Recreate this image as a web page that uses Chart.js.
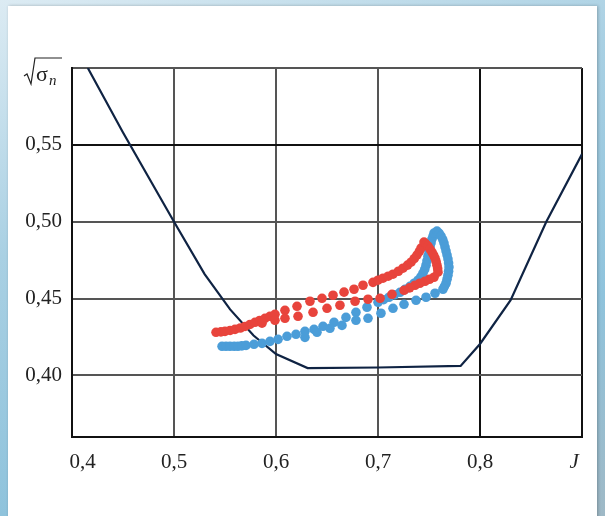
<!DOCTYPE html>
<html>
<head>
<meta charset="utf-8">
<script src="https://cdn.jsdelivr.net/npm/chart.js@4.4.1/dist/chart.umd.min.js"></script>
<style>
  html, body { margin: 0; padding: 0; }
  body {
    width: 605px; height: 516px; overflow: hidden; position: relative;
    background: linear-gradient(160deg, #dcebf3 0%, #a9d0e3 35%, #8fc3dc 70%, #9fb9c6 100%);
  }
  #card {
    position: absolute; left: 8px; top: 6px; width: 589px; height: 520px;
    background: #fff; box-shadow: 1px 0 3px rgba(0,0,0,0.25);
  }
  #wrap { position: absolute; left: 0; top: 0; width: 605px; height: 516px; }
</style>
</head>
<body>
<div id="card"></div>
<div id="wrap"><canvas id="chart" width="605" height="516"></canvas></div>
<script>
// tick positions
const xTicks = [0.4, 0.5, 0.6, 0.7, 0.8, 0.9];
const yTicks = [0.40, 0.45, 0.50, 0.55, 0.60];

// boundary curve (dark line)
const curveX = [0.4155, 0.45, 0.50, 0.53, 0.555, 0.578, 0.600, 0.631, 0.700, 0.781, 0.800, 0.830, 0.865, 0.900];
const curveY = [0.600, 0.558, 0.500, 0.466, 0.443, 0.426, 0.414, 0.4048, 0.4052, 0.4062, 0.4205, 0.449, 0.500, 0.544];

// red points
const redX = [0.5412, 0.5460, 0.5500, 0.5550, 0.5598, 0.5650, 0.5696, 0.5745, 0.5794, 0.5840, 0.5892, 0.5940, 0.5990, 0.6088,
  0.6206, 0.6333, 0.6451, 0.6559, 0.6667, 0.6765, 0.6853, 0.6951, 0.7000, 0.7049, 0.7100, 0.7147, 0.7200, 0.7245, 0.7290,
  0.7324, 0.7355, 0.7382, 0.7405, 0.7422, 0.7451, 0.7470, 0.7490, 0.7510, 0.7529, 0.7545, 0.7559, 0.7570, 0.7578, 0.7585, 0.7588,
  0.7549, 0.7505, 0.7461, 0.7410, 0.7363, 0.7310, 0.7255, 0.7137, 0.7020, 0.6902, 0.6775, 0.6627, 0.6500, 0.6363, 0.6216,
  0.6088, 0.5990, 0.5863];
const redY = [0.4281, 0.4284, 0.4287, 0.4293, 0.4300, 0.4309, 0.4319, 0.4332, 0.4346, 0.4358, 0.4372, 0.4385, 0.4398, 0.4424,
  0.4450, 0.4483, 0.4502, 0.4522, 0.4542, 0.4561, 0.4587, 0.4606, 0.4620, 0.4633, 0.4646, 0.4659, 0.4678, 0.4698, 0.4718,
  0.4737, 0.4760, 0.4783, 0.4806, 0.4829, 0.4868, 0.4855, 0.4841, 0.4822, 0.4802, 0.4783, 0.4763, 0.4740, 0.4717, 0.4695, 0.4672,
  0.4639, 0.4626, 0.4613, 0.4600, 0.4587, 0.4570, 0.4554, 0.4528, 0.4502, 0.4496, 0.4483, 0.4457, 0.4437, 0.4411, 0.4385,
  0.4372, 0.4359, 0.4340];

// blue points
const blueX = [0.5471, 0.5510, 0.5549, 0.5590, 0.5627, 0.5665, 0.5706, 0.5784, 0.5863, 0.5941, 0.6020, 0.6108, 0.6196, 0.6284,
  0.6373, 0.6461, 0.6569, 0.6686, 0.6784, 0.6892, 0.7000, 0.7055, 0.7108, 0.7160, 0.7216, 0.7265, 0.7314, 0.7355, 0.7392,
  0.7420, 0.7441, 0.7458, 0.7471, 0.7480, 0.7490, 0.7500, 0.7510, 0.7520, 0.7529, 0.7540, 0.7549, 0.7578, 0.7600, 0.7618,
  0.7635, 0.7647, 0.7657, 0.7667, 0.7677, 0.7686, 0.7692, 0.7696, 0.7692, 0.7686, 0.7677, 0.7667, 0.7652, 0.7637,
  0.7559, 0.7471, 0.7373, 0.7255, 0.7147, 0.7029, 0.6902, 0.6784, 0.6647, 0.6529, 0.6402, 0.6284];
const blueY = [0.4190, 0.4190, 0.4190, 0.4190, 0.4190, 0.4193, 0.4196, 0.4203, 0.4209, 0.4222, 0.4235, 0.4255, 0.4268, 0.4287,
  0.4300, 0.4320, 0.4346, 0.4378, 0.4411, 0.4444, 0.4476, 0.4493, 0.4509, 0.4525, 0.4541, 0.4560, 0.4580, 0.4600, 0.4620,
  0.4642, 0.4665, 0.4690, 0.4717, 0.4746, 0.4776, 0.4805, 0.4835, 0.4861, 0.4887, 0.4907, 0.4926, 0.4939, 0.4925, 0.4906,
  0.4884, 0.4861, 0.4835, 0.4809, 0.4783, 0.4757, 0.4731, 0.4705, 0.4678, 0.4652, 0.4626, 0.4600, 0.4580, 0.4561,
  0.4535, 0.4509, 0.4489, 0.4463, 0.4437, 0.4405, 0.4372, 0.4359, 0.4326, 0.4307, 0.4281, 0.4248];

const toPts = (xs, ys) => xs.map((x, i) => ({ x: x, y: ys[i] }));
const comma = v => v.toString().replace('.', ',');

// draws the sqrt(sigma_n) axis title
const axisTitle = {
  id: 'axisTitle',
  afterDraw(chart) {
    const ctx = chart.ctx;
    ctx.save();
    ctx.strokeStyle = '#222';
    ctx.lineWidth = 1.2;
    ctx.beginPath();
    ctx.moveTo(24, 76);
    ctx.lineTo(27, 74);
    ctx.lineTo(31, 84);
    ctx.lineTo(35, 58);
    ctx.lineTo(62, 58);
    ctx.stroke();
    ctx.fillStyle = '#222';
    ctx.font = '22px "Liberation Serif"';
    ctx.textBaseline = 'alphabetic';
    ctx.fillText('σ', 36, 81);
    ctx.font = 'italic 15px "Liberation Serif"';
    ctx.fillText('n', 49, 85);
    ctx.restore();
  }
};

new Chart(document.getElementById('chart'), {
  type: 'scatter',
  data: {
    datasets: [
      { data: toPts(redX, redY), backgroundColor: '#e8443c', borderWidth: 0, pointRadius: 4.8 },
      { data: toPts(blueX, blueY), backgroundColor: '#4b9dd8', borderWidth: 0, pointRadius: 4.8 },
      { data: toPts(curveX, curveY), showLine: true, borderColor: '#0f2343', borderWidth: 2.2,
        pointRadius: 0, fill: false, tension: 0 }
    ]
  },
  options: {
    responsive: false,
    animation: false,
    layout: { padding: { left: 0, top: 68, right: 23, bottom: 0 } },
    plugins: { legend: { display: false }, tooltip: { enabled: false } },
    scales: {
      x: {
        type: 'linear', min: 0.4, max: 0.9,
        afterBuildTicks: s => { s.ticks = xTicks.map(v => ({ value: v })); },
        afterFit: s => { s.height = 79; s.paddingLeft = 0; s.paddingRight = 0; },
        border: { color: '#111', width: 2 },
        grid: {
          drawTicks: false, lineWidth: 2,
          color: c => (c.tick && (c.tick.value === 0.8 || c.tick.value === 0.9)) ? '#111' : '#555'
        },
        ticks: {
          padding: 13,
          color: '#222',
          maxRotation: 0,
          font: c => (c.tick && c.tick.value === 0.9)
            ? { family: 'Liberation Serif', size: 21, style: 'italic' }
            : { family: 'Liberation Serif', size: 21 },
          callback: v => v === 0.9 ? 'J   ' : (v === 0.4 ? '    ' + comma(v) : comma(v))
        }
      },
      y: {
        type: 'linear', min: 0.36, max: 0.60,
        afterBuildTicks: s => { s.ticks = yTicks.map(v => ({ value: v })); },
        afterFit: s => { s.width = 72; },
        border: { color: '#111', width: 2 },
        grid: {
          drawTicks: false, lineWidth: 2,
          color: c => (c.tick && c.tick.value === 0.55) ? '#111' : '#555'
        },
        ticks: {
          padding: 10,
          color: '#222',
          font: { family: 'Liberation Serif', size: 21 },
          callback: v => v === 0.6 ? '' : v.toFixed(2).replace('.', ',')
        }
      }
    }
  },
  plugins: [axisTitle]
});
</script>
</body>
</html>
